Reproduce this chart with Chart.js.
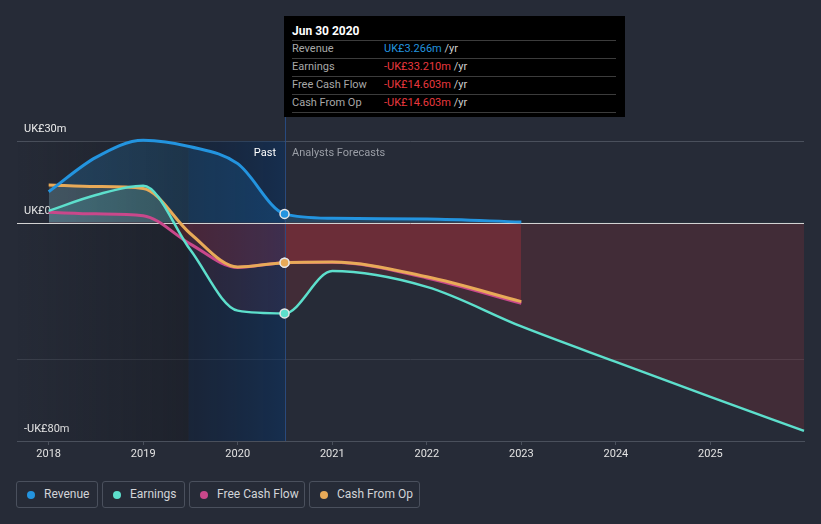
<!DOCTYPE html>
<html>
<head>
<meta charset="utf-8">
<script src="https://cdn.jsdelivr.net/npm/chart.js@4.4.1/dist/chart.umd.min.js"></script>
<style>
body { margin: 0; background: #262b37; font-family: Roboto, 'Noto Sans', sans-serif; }
#wrap { position: relative; width: 821px; height: 524px; overflow: hidden; }
#chart { position: absolute; left: 0; top: 0; }
.tip { position: absolute; left: 284px; top: 16px; width: 341px; height: 101px; background: #000; box-sizing: border-box; padding: 6px 9px 0 8px; }
.tip .title { color: #fff; font-weight: bold; font-size: 12px; line-height: 18px; }
.tip .row { height: 17px; border-top: 1px solid #3c3c3c; font-size: 11px; line-height: 16px; color: #a8a8a8; position: relative; }
.tip .row:last-child { border-bottom: 1px solid #3c3c3c; }
.tip .val { position: absolute; left: 92px; top: 0; }
.tip .unit { color: #cfcfcf; }
.note { position: absolute; top: 145px; font-size: 11px; line-height: 16px; }
.leg { position: absolute; top: 481px; height: 27px; box-sizing: border-box; border: 1px solid #4a505d; border-radius: 3px; color: #d2d4d8; font-size: 12px; line-height: 25px; }
.leg i { position: absolute; left: 10px; top: 9px; width: 8px; height: 8px; border-radius: 50%; }
.leg span { position: absolute; left: 27px; top: 0; white-space: nowrap; }
</style>
</head>
<body>
<div id="wrap">
  <canvas id="chart" width="821" height="470"></canvas>
  <div class="note" style="right:545px;color:#ffffff;">Past</div>
  <div class="note" style="left:292px;color:#9a9ea6;">Analysts Forecasts</div>
  <div class="tip" id="tip"></div>
  <div id="legend"></div>
</div>
<script>
// values in UK£m, x = fractional year
const pastYears = [2018, 2018.5, 2019, 2019.5, 2020, 2020.495];
const forecastYears = [2021, 2022, 2023];
const earningsForecastYears = [2021, 2022, 2023, 2024, 2025, 2025.99];

const revenue = [11.4, 24, 30.3, 27.9, 21.7, 3.266, 1.65, 1.4, 0.3];
const earnings = [4.4, 10.2, 13.6, -10, -32.2, -33.21, -17.7, -23.5, -38, -51, -63.8, -76.3];
const freeCashFlow = [3.85, 3.3, 2.6, -7.8, -16.4, -14.603, -14.5, -20.2, -29.5];
const cashFromOp = [13.9, 13.3, 12.6, -4, -16.2, -14.603, -14.4, -19.8, -28.9];

const yearTicks = [2018, 2019, 2020, 2021, 2022, 2023, 2024, 2025];
const valueTicks = [-80, -50, 0, 30];
const valueTickLabels = ['-UK£80m', '', 'UK£0', 'UK£30m'];

const seriesNames = ['Revenue', 'Earnings', 'Free Cash Flow', 'Cash From Op'];
const seriesColors = ['#2394df', '#5ddfcc', '#c9488b', '#e8aa58'];
const tooltipDate = 'Jun 30 2020';
const tooltipYear = 2020.495;
const tooltipValues = ['UK£3.266m', '-UK£33.210m', '-UK£14.603m', '-UK£14.603m'];
const tooltipColors = ['#2394df', '#e8383e', '#e8383e', '#e8383e'];

const pastBandStart = 2019.48;
const negFill = 'rgba(224,56,62,0.15)';

function points(xs, ys) {
    return xs.map((x, i) => ({ x: x, y: ys[i] }));
}

const revenuePts = points(pastYears.concat(forecastYears), revenue);
const earningsPts = points(pastYears.concat(earningsForecastYears), earnings);
const fcfPts = points(pastYears.concat(forecastYears), freeCashFlow);
const cfoPts = points(pastYears.concat(forecastYears), cashFromOp);

function markerRadius(ctx) {
    return ctx.raw && ctx.raw.x === tooltipYear ? 4.5 : 0;
}

function makeSet(label, data, color, above, width) {
    return {
        label: label,
        data: data,
        borderColor: color,
        backgroundColor: color,
        borderWidth: width,
        pointRadius: markerRadius,
        pointBackgroundColor: color,
        pointBorderColor: '#e6e6e6',
        pointBorderWidth: 1.5,
        fill: { target: 'origin', above: above, below: negFill },
        clip: false
    };
}

// draws dark past shading, the past band, the marker line and the zero line
const pastShade = {
    id: 'pastShade',
    beforeDatasetsDraw(chart) {
        const ctx = chart.ctx;
        const a = chart.chartArea;
        const x = chart.scales.x;
        const y = chart.scales.y;
        const x0 = x.getPixelForValue(pastBandStart);
        const x1 = x.getPixelForValue(tooltipYear);
        ctx.save();
        let g = ctx.createLinearGradient(a.left, 0, x0, 0);
        g.addColorStop(0, 'rgba(12,14,20,0)');
        g.addColorStop(1, 'rgba(12,14,20,0.3)');
        ctx.fillStyle = g;
        ctx.fillRect(a.left, a.top, x0 - a.left, a.bottom - a.top);
        g = ctx.createLinearGradient(x0, 0, x1, 0);
        g.addColorStop(0, 'rgba(0,25,60,0.32)');
        g.addColorStop(1, 'rgba(0,50,110,0.42)');
        ctx.fillStyle = g;
        ctx.fillRect(x0, a.top, x1 - x0, a.bottom - a.top);
        const lx = Math.round(x1) + 0.5;
        ctx.strokeStyle = 'rgba(40,78,135,0.9)';
        ctx.lineWidth = 1;
        ctx.beginPath();
        ctx.moveTo(lx, 117);
        ctx.lineTo(lx, a.bottom);
        ctx.stroke();
        const zy = Math.round(y.getPixelForValue(0)) + 0.5;
        ctx.strokeStyle = '#d2d2d2';
        ctx.beginPath();
        ctx.moveTo(a.left, zy);
        ctx.lineTo(a.right, zy);
        ctx.stroke();
        ctx.restore();
    }
};

Chart.defaults.font.family = "Roboto, 'Noto Sans', sans-serif";

const myChart = new Chart(document.getElementById('chart').getContext('2d'), {
    type: 'line',
    data: {
        datasets: [
            makeSet('Revenue', revenuePts, seriesColors[0], 'rgba(35,148,223,0.25)', 3),
            makeSet('Earnings', earningsPts, seriesColors[1], 'rgba(93,223,204,0.22)', 2.5),
            makeSet('Cash From Op', cfoPts, seriesColors[3], 'rgba(232,170,88,0.22)', 3),
            makeSet('Free Cash Flow', fcfPts, seriesColors[2], 'rgba(201,72,139,0.22)', 3)
        ]
    },
    options: {
        responsive: false,
        animation: false,
        layout: { padding: { left: 17, right: 17, top: 141, bottom: 0 } },
        elements: { line: { cubicInterpolationMode: 'monotone' } },
        plugins: {
            legend: { display: false },
            tooltip: { enabled: false },
            filler: { drawTime: 'beforeDatasetsDraw' }
        },
        scales: {
            x: {
                type: 'linear',
                min: 2017.665,
                max: 2025.99,
                afterBuildTicks: s => { s.ticks = yearTicks.map(v => ({ value: v })); },
                afterFit: s => { s.height = 29; },
                grid: { drawOnChartArea: false, drawTicks: true, tickLength: 4, color: '#4a505c' },
                border: { display: true, color: '#4a505c' },
                ticks: { color: '#e2e2e2', font: { size: 11 }, padding: 3, maxRotation: 0, autoSkip: false, callback: v => String(v) }
            },
            y: {
                min: -80,
                max: 30,
                afterBuildTicks: s => { s.ticks = valueTicks.map(v => ({ value: v })); },
                afterFit: s => { s.width = 0; },
                border: { display: false },
                grid: {
                    drawTicks: false,
                    color: c => c.tick.value === 30 ? '#4a505c' : c.tick.value === -50 ? '#3a3f4b' : 'rgba(0,0,0,0)'
                },
                ticks: {
                    mirror: true,
                    padding: 7,
                    labelOffset: -12,
                    color: '#ececec',
                    font: { size: 11 },
                    callback: v => valueTickLabels[valueTicks.indexOf(v)]
                }
            }
        }
    },
    plugins: [pastShade]
});

// tooltip box and legend as html
let tipHtml = '<div class="title">' + tooltipDate + '</div>';
seriesNames.forEach((n, i) => {
    tipHtml += '<div class="row">' + n + '<span class="val"><span style="color:' + tooltipColors[i] + '">' +
        tooltipValues[i] + '</span><span class="unit"> /yr</span></span></div>';
});
document.getElementById('tip').innerHTML = tipHtml;

const legendLeft = [16, 102, 189, 309];
const legendWidth = [82, 83, 116, 111];
let legHtml = '';
seriesNames.forEach((n, i) => {
    legHtml += '<div class="leg" style="left:' + legendLeft[i] + 'px;width:' + legendWidth[i] + 'px">' +
        '<i style="background:' + seriesColors[i] + '"></i><span>' + n + '</span></div>';
});
document.getElementById('legend').innerHTML = legHtml;
</script>
</body>
</html>
